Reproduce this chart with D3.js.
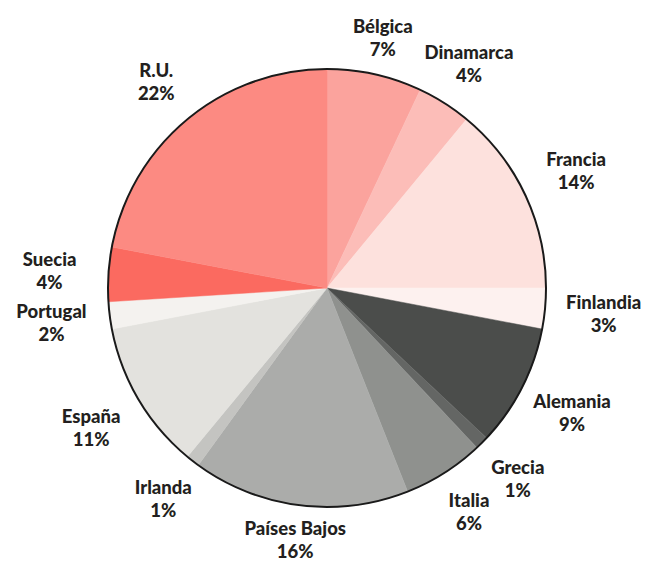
<!DOCTYPE html>
<html>
<head>
<meta charset="utf-8">
<script src="https://cdn.jsdelivr.net/npm/d3@7"></script>
<style>
  body { margin: 0; background: #fff; }
  text { font-family: Lato, "Open Sans", sans-serif; font-weight: 900; fill: #231f20; }
</style>
</head>
<body>
<div id="chart"></div>
<script>
// pais y porcentaje, empezando arriba y en sentido horario
var paises = ['Bélgica','Dinamarca','Francia','Finlandia','Alemania','Grecia','Italia',
              'Países Bajos','Irlanda','España','Portugal','Suecia','R.U.'];
var valores = [7, 4, 14, 3, 9, 1, 6, 16, 1, 11, 2, 4, 22];
var colores = ['#fba39d','#fcbdb8','#fde1dd','#fdf1ef','#4b4d4b','#646664','#8f918e',
               '#abacaa','#c4c4c1','#e3e2de','#f4f2ef','#fb6a60','#fc8a82'];

var W = 649, H = 562, cx = 327, cy = 288, R = 219;

var svg = d3.select('#chart').append('svg')
   .attr('width', W)
   .attr('height', H);

var g = svg.append('g').attr('transform', 'translate(' + cx + ',' + cy + ')');

var pie = d3.pie().sort(null).value(function(d){ return d.v; });
var arc = d3.arc().innerRadius(0).outerRadius(R);

var data = paises.map(function(p, i){ return {p: p, v: valores[i], c: colores[i]}; });
var arcs = pie(data);

g.selectAll('path.slice')
   .data(arcs).enter()
   .append('path')
   .attr('class', 'slice')
   .attr('d', arc)
   .attr('fill', function(d){ return d.data.c; })
   .attr('stroke', function(d){ return d.data.c; })
   .attr('stroke-width', 0.5);

g.append('circle')
   .attr('r', R)
   .attr('fill', 'none')
   .attr('stroke', '#1a1a1a')
   .attr('stroke-width', 2);

// etiquetas: radio algo mayor en los lados por el ancho del texto
var lab = g.selectAll('g.lab')
   .data(arcs).enter()
   .append('g')
   .attr('class', 'lab')
   .attr('transform', function(d){
      var a = (d.startAngle + d.endAngle) / 2;
      var r = 250 + 28 * Math.abs(Math.sin(a));
      return 'translate(' + (r * Math.sin(a)) + ',' + (-r * Math.cos(a)) + ')';
   });

lab.append('text')
   .attr('text-anchor', 'middle')
   .attr('y', -5)
   .attr('font-size', 18.5)
   .text(function(d){ return d.data.p; });

lab.append('text')
   .attr('text-anchor', 'middle')
   .attr('y', 18)
   .attr('font-size', 18.5)
   .text(function(d){ return d.data.v + '%'; });
</script>
</body>
</html>
